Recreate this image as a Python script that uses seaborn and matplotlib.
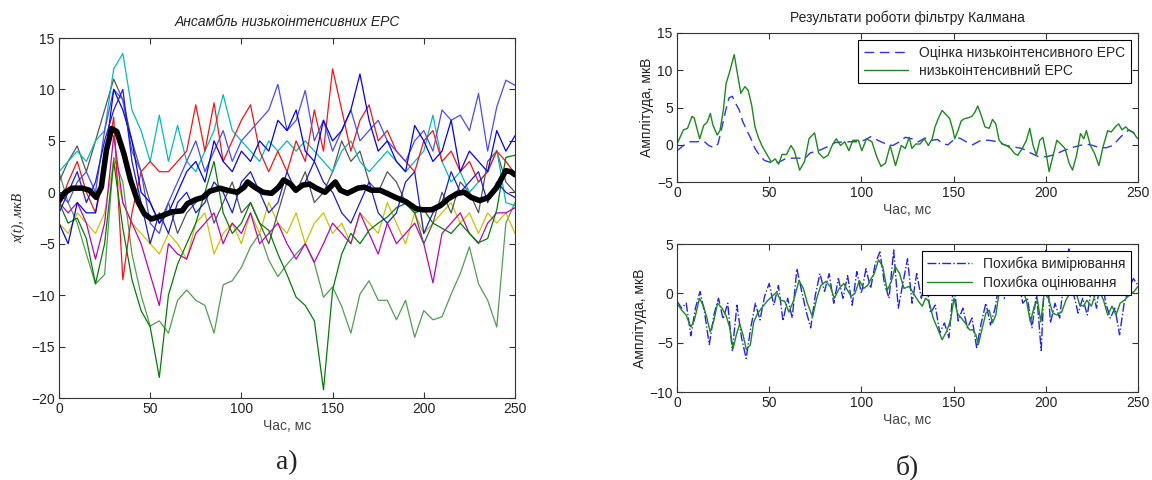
import numpy as np
import pandas as pd
import matplotlib
matplotlib.use("Agg")
import matplotlib.pyplot as plt
import seaborn as sns

# ---------- panel a: ensemble of low-intensity ERP (values every 5 ms) ----------
t_ens = np.arange(0, 251, 5)

ens_green_dark = [-1.0, -3.0, -2.5, -4.5, -8.9, -5.0, 3.0, -3.5, -8.5, -11.5, -13.1, -18.0, -10.0,
                  -7.0, -5.0, -3.0, 0.0, 3.0, -2.0, -4.0, -3.0, -1.0, -3.0, -3.7, -6.0, -8.0, -10.2,
                  -11.0, -12.5, -19.2, -9.5, -6.0, -4.0, -5.0, -3.7, -3.0, -2.4, -1.5, -1.1, -2.0,
                  -1.7, -3.0, -3.5, -4.0, -3.0, -4.0, -4.9, -4.5, -1.7, 3.4, 3.6]
ens_green_light = [2.0, -1.0, -3.0, -6.0, -8.9, -8.0, 3.4, 1.0, -6.0, -10.0, -13.0, -12.5, -13.7,
                   -10.5, -9.5, -10.5, -11.0, -13.7, -9.0, -8.6, -7.3, -5.3, -4.0, -6.6, -8.2, -7.0,
                   -6.0, -5.0, -6.9, -10.2, -9.2, -11.1, -13.7, -9.9, -8.6, -10.5, -10.5, -12.4,
                   -10.5, -14.1, -11.5, -12.4, -12.1, -9.9, -7.9, -5.3, -8.9, -10.5, -13.1, -3.0, -1.0]
ens_red = [-1.5, 1.0, 3.0, 0.0, -2.0, 2.0, 7.3, -8.5, -2.0, 2.0, 3.0, 2.0, 2.0, 3.0, 4.0, 8.5, 4.0,
           8.7, 3.0, 5.0, 7.0, 8.5, 4.0, 2.0, 4.0, 2.0, 5.0, 3.0, 8.0, 4.0, 12.0, 8.0, 4.0, 7.0,
           8.5, 5.0, 6.0, 4.0, 3.0, 2.0, 5.0, 6.0, 3.0, 4.0, 2.0, 3.0, 1.0, 2.0, 4.0, 3.0, 1.8]
ens_cyan = [2.0, 3.0, 4.0, 3.0, 5.0, 6.0, 12.0, 13.5, 8.0, 6.0, 3.0, 7.5, 3.0, 6.5, 3.0, 2.0, 4.0,
            6.0, 9.5, 6.0, 5.0, 4.0, 3.0, 5.0, 4.0, 5.0, 4.0, 5.0, 4.0, 3.0, 2.0, 4.0, 5.0, 3.0,
            2.0, 3.0, 4.0, 3.0, 2.0, 3.0, 4.0, 7.5, 3.0, 1.0, 2.0, 0.0, 1.0, 2.0, 4.1, -1.0, -1.3]
ens_blue = [-3.0, -5.0, -1.0, -2.0, -2.0, 3.0, 10.0, 8.0, 5.0, 0.0, -1.0, -3.0, -2.0, 0.0, 2.0, 3.0,
            1.0, 5.0, 3.0, 2.0, 4.0, 3.0, 5.0, 4.0, 7.0, 6.0, 8.0, 4.0, 3.0, 7.0, 5.0, 6.0, 8.0,
            11.5, 7.0, 4.0, 5.0, 3.0, 2.0, 6.5, 5.0, 3.0, 4.0, 7.0, 2.0, 4.0, 3.0, 2.0, 6.0, 4.0, 5.5]
ens_blue_light = [0.0, -1.0, 1.0, 2.0, 0.0, 6.0, 10.0, 9.0, 4.0, 2.0, -3.0, -4.0, -1.0, 1.0, 3.0,
                  5.0, 2.0, 4.0, 6.0, 3.0, 5.0, 6.0, 7.0, 8.0, 10.5, 6.0, 7.0, 9.9, 5.0, 7.0, 4.0,
                  6.0, 8.0, 5.0, 6.0, 7.0, 5.0, 4.0, 3.0, 5.0, 6.0, 4.0, 8.0, 7.0, 7.5, 6.0, 9.6,
                  4.0, 8.3, 10.9, 10.4]
ens_blue_dark = [-2.0, 0.0, 2.0, -1.0, 1.0, 5.0, 8.0, 10.0, 3.0, -1.0, -5.0, -2.0, -4.0, -1.0, 0.0,
                 -2.0, -1.0, 1.0, 0.0, -2.0, 1.0, 2.0, 0.0, -2.0, -1.0, 2.0, 0.0, 1.0, 3.0, 1.0,
                 0.0, -2.0, -3.0, -1.0, 1.0, -2.0, -3.0, -2.0, 1.0, 2.0, -4.0, -2.0, -1.0, 2.0,
                 0.0, 1.0, 2.0, -1.0, 1.0, 0.0, -0.5]
ens_magenta = [-1.0, -2.0, -1.0, -3.0, -6.5, -3.0, 5.5, -1.0, -3.0, -5.0, -8.0, -11.0, -5.0, -6.0,
               -6.5, -4.0, -3.0, -2.0, -5.0, -3.0, -4.0, -2.0, -5.0, -4.0, -3.0, -5.0, -6.5, -5.0,
               -6.8, -5.0, -3.0, -4.0, -5.0, -2.0, -4.0, -6.0, -3.0, -5.0, -4.0, -3.0, -5.0, -8.8,
               -4.0, -3.0, -2.0, -4.0, -5.0, -3.0, -2.0, -2.0, -1.5]
ens_yellow = [-3.0, -4.0, -2.0, -3.0, -4.0, -2.0, 3.0, -1.0, -3.0, -4.0, -5.0, -6.0, -4.0, -5.0,
              -6.5, -3.0, -2.0, -6.0, -4.0, -3.0, -5.0, -2.0, -4.0, -1.0, -3.0, -4.0, -2.0, -5.0,
              -3.0, -2.0, -4.0, -3.0, -5.0, -2.0, -3.0, -4.0, -1.0, -3.0, -5.0, -2.0, -4.0, -3.0,
              -2.0, -1.0, -3.0, -2.0, -4.0, -2.0, -3.0, -2.0, -4.0]
ens_gray = [1.0, 3.0, 4.5, 2.0, 5.0, 8.0, 11.0, 9.0, 5.0, 2.0, -1.0, -3.0, -1.0, -4.0, -2.0, -1.0,
            0.0, -3.0, -1.0, 1.0, -2.0, -1.0, -3.0, -5.0, -2.0, 1.0, 0.0, 2.0, -1.0, 0.0, 2.0, 5.0,
            3.0, 4.0, 1.0, 0.0, 2.0, 1.0, -1.0, -2.0, -5.0, -3.0, 0.0, -2.0, 1.0, 0.0, -2.0, 3.0,
            4.0, 1.0, 0.0]

# ensemble mean (thick black line)
mean_t = [0, 3.4, 7.2, 12.8, 16.6, 20.4, 23.2, 26, 28.9, 31.7, 35.5, 39.2, 43, 46.8, 50.6, 56.2,
          61.9, 67.5, 70.4, 75.1, 78.9, 82.6, 88.3, 92.1, 97.7, 101.5, 103.4, 107.2, 111.9, 116.6,
          120.4, 123.2, 127, 129.8, 133.6, 137.4, 141.1, 145.8, 148.7, 151.5, 154.3, 158.1, 163.8,
          167.5, 171.3, 176, 179.8, 184.5, 190.1, 195.8, 199.6, 204.3, 209, 213.7, 218.5, 222.2,
          226, 230.7, 235.4, 240.1, 244.9, 247.7, 250]
mean_v = [-0.8, 0.0, 0.4, 0.4, 0.2, -0.5, 0.5, 4.1, 6.2, 5.9, 3.8, 1.2, -0.8, -2.1, -2.6, -2.3,
          -1.9, -1.8, -1.1, -0.7, -0.5, 0.1, 0.4, 0.2, 0.0, 0.5, 1.0, 0.5, 0.0, -0.1, 0.5, 1.2,
          0.8, 0.2, 0.7, 0.8, 0.4, 0.0, 0.5, 1.0, 0.2, -0.1, 0.4, 0.5, 0.2, 0.2, -0.1, -0.5, -0.9,
          -1.6, -1.7, -1.7, -1.3, -0.6, -0.1, 0.0, -0.5, -0.8, -0.5, 0.5, 2.1, 2.0, 1.7]

# ---------- panel b (top): Kalman filter result ----------
true_t = [0, 3.5, 5.7, 8.1, 9.3, 12.3, 14.5, 16.3, 18.1, 19.4, 21.8, 23.3, 25.1, 26.6, 28.8, 31,
          32.8, 34.6, 36.8, 38.6, 40.5, 42.3, 44.1, 46, 48.5, 51.1, 53.3, 55.1, 57, 59.4, 61.8,
          63.6, 66.5, 69.1, 71.6, 74.6, 76.8, 79.5, 81.9, 84.1, 86.3, 88.7, 91, 93.2, 95.4, 98.4,
          100.2, 102.8, 105.7, 108.3, 110.6, 113, 115.6, 118.5, 121.6, 123.8, 125.9, 127.4, 129.5,
          131.8, 134.1, 136.3, 138.4, 139.9, 142, 143.8, 146.1, 147.9, 149.7, 150.6, 152.4, 154.1,
          155.9, 157.7, 159.9, 161.6, 163.1, 164.9, 167, 169.3, 171.1, 172.9, 174.7, 176.5, 178.8,
          180.9, 183.1, 184.9, 187.2, 189.5, 191.3, 193.1, 194.9, 196.7, 198.4, 200.2, 201.8,
          203.8, 206, 208.1, 210.4, 212.7, 214.5, 216.7, 218.8, 220.6, 222, 224.2, 226.5, 228.8,
          231, 233.6, 235.4, 237.7, 239.5, 241.3, 243.4, 245.2, 247.4, 249.2, 250]
true_v = [0.1, 2.0, 2.2, 3.8, 3.6, 0.8, 2.6, 3.0, 4.2, 2.7, 1.3, 1.9, 4.6, 8.2, 10.0, 12.1, 9.5,
          6.9, 7.8, 7.3, 5.3, 2.4, 1.0, -0.1, -1.2, -2.3, -1.9, -2.6, -1.3, -1.3, -0.1, -0.8,
          -3.4, -2.3, 0.8, 1.6, -1.1, -1.8, -1.4, -0.1, 0.8, -0.1, 0.4, -0.8, 0.6, 0.6, -0.8, 0.8,
          0.4, -1.6, -2.9, -2.5, -0.1, -2.8, -0.1, -0.5, 1.0, -0.5, 0.1, 0.1, 0.8, -0.1, 0.8, 2.4,
          3.7, 4.6, 4.0, 3.5, 1.9, 0.8, 1.9, 3.2, 3.5, 3.6, 3.8, 4.4, 5.2, 4.0, 2.4, 2.2, 3.4, 2.8,
          0.6, 0.1, -0.1, -0.5, -1.2, -1.4, -0.5, 0.6, 2.2, -0.1, -1.4, 0.6, 1.0, -1.2, -3.6,
          -1.6, 0.6, 0.1, -0.5, -2.5, -3.4, -1.4, 1.5, 0.8, 1.9, -0.1, -1.2, -2.8, -0.3, 1.9,
          1.7, 2.4, 2.8, 2.0, 2.4, 1.9, 1.7, 1.0, 0.8]

est_t = [0, 3.5, 7.1, 10.8, 14.5, 17.2, 20, 22.2, 23.6, 26.4, 28.2, 30, 31.9, 33.7, 35.5, 37.9,
         40.1, 42.3, 44.7, 47.4, 51.1, 54.8, 59.4, 64, 69.5, 72.2, 76.8, 81.3, 85.9, 91.4, 96.9,
         101.5, 105.2, 109.7, 113.4, 117, 120.7, 123.8, 127.4, 130.9, 134.5, 138, 141.3, 144.3,
         147, 149.7, 153.3, 156.8, 160.4, 164.9, 169.3, 173.8, 178.3, 182.7, 187.2, 191.7, 196.1,
         200.6, 205, 209.5, 214, 218.4, 222, 225.6, 229.2, 232.7, 236.3, 240.8, 245, 250]
est_v = [-0.8, -0.1, 0.4, 0.4, 0.5, -0.1, -0.4, 0.1, 1.5, 4.6, 6.3, 6.5, 5.5, 4.7, 3.2, 1.9, 0.8,
         -0.5, -1.4, -2.1, -2.4, -2.4, -1.8, -1.8, -1.8, -1.1, -0.8, -0.3, 0.3, 0.4, 0.4, 0.6, 1.1,
         0.5, 0.1, -0.1, 0.4, 1.0, 0.8, 0.4, 0.9, 0.6, 0.7, 0.1, 0.0, 0.6, 0.9, 0.4, 0.0, 0.6, 0.6,
         0.4, -0.1, -0.3, -0.5, -1.1, -1.6, -1.6, -1.3, -0.8, -0.4, -0.1, 0.1, -0.1, -0.4, -0.4,
         -0.1, 1.1, 2.0, 1.2]

# ---------- panel b (bottom): errors ----------
err_est_t = [0, 2.5, 4.9, 7.5, 9.3, 12.2, 14.4, 16.2, 18, 19.8, 22, 24.4, 26.7, 28.5, 30.4, 32.2,
             34, 35.8, 37.6, 39.8, 41.6, 43.8, 46.7, 49.3, 51.6, 54, 56.2, 58.4, 60.7, 63.1, 66.2,
             68.5, 70.7, 73.5, 75.8, 78, 80.7, 83.1, 85.3, 88, 90.4, 92.5, 94.4, 96.5, 98.9,
             101.3, 103.4, 105.3, 107, 109.3, 111.6, 114, 116.2, 118.4, 120.7, 123.1, 125.9,
             128.2, 130.9, 133, 134.8, 136.6, 138.9, 141.6, 143.8, 146.1, 148.4, 150.2, 152,
             154.1, 156.3, 158.6, 160.4, 162.1, 163.4, 165.7, 167.5, 169.3, 171.1, 172.9, 174.6,
             177, 179.1, 181.8, 184.5, 187.1, 189.5, 191.6, 193.8, 195.5, 197.3, 199.1, 201.4,
             203.8, 206, 208.6, 210.9, 213, 214.8, 216.6, 218.4, 220.5, 222.3, 224.7, 227, 229.1,
             231.3, 233.6, 235.9, 238.1, 240.3, 242.6, 245.2, 247.9, 250]
err_est_v = [-1.0, -1.7, -2.2, -3.4, -2.8, -0.5, -1.3, -2.5, -3.9, -2.9, -1.0, -1.5, -2.3, -3.4,
             -5.6, -4.2, -3.1, -4.2, -5.7, -5.2, -2.9, -2.0, -1.3, -0.7, -0.3, 0.1, -0.7, -0.8,
             -1.9, -0.8, 1.3, 0.5, -1.0, -2.4, -0.5, 0.8, 1.2, 0.7, -0.5, 0.5, 1.0, 0.3, -0.3, 0.0,
             1.3, 0.5, 0.8, 1.5, 2.0, 3.4, 2.7, 0.3, 1.2, 2.7, 2.0, 0.5, 0.7, 0.0, -0.8, -1.3,
             -0.5, -0.8, -2.5, -3.7, -4.7, -3.9, -2.7, -0.5, -2.0, -2.5, -3.0, -3.7, -3.7, -4.2,
             -5.2, -3.4, -2.0, -1.7, -3.0, -2.2, 0.0, 0.3, 0.2, 0.5, 0.8, 0.5, -0.7, -2.9, -1.3,
             -0.7, -2.9, 0.0, -0.5, -2.0, -2.2, -1.9, -0.7, 0.0, 0.5, 0.0, -1.2, -1.3, -0.7, -1.3,
             0.0, 0.2, -0.7, -2.2, -1.3, -2.2, -1.0, -0.7, -0.2, 0.2, 0.7]

err_meas_t = np.arange(0, 250.1, 2.5)
err_meas_v = [-0.8, -1.5, -1.0, -4.3, -1.5, 0.2, -2.0, -5.2, -2.2, -0.5, -2.6, -1.0, -5.8, -1.2,
              -4.5, -6.6, -3.5, -1.0, -2.7, -0.3, 1.0, -1.2, 0.8, -2.8, -0.5, -2.5, 2.5, 0.3,
              -1.8, -3.5, -0.2, 2.0, 0.2, 2.0, -1.0, 1.5, -0.5, 1.8, -1.2, 2.2, 0.0, 2.5, 0.5,
              3.0, 4.2, 1.0, -0.5, 4.4, -1.5, 1.0, 3.5, -1.0, 2.0, -0.5, 1.5, -2.0, -1.2, -4.0,
              -3.0, -4.5, 1.0, -2.8, -1.5, -3.5, -2.5, -5.5, -3.0, -1.0, -3.2, -1.5, 1.5, -0.5,
              2.5, 0.0, 1.5, -1.0, -0.5, -3.5, 0.0, -5.8, 4.5, -3.0, -1.0, -2.5, 1.5, 4.5, 0.0,
              -2.0, -0.5, -2.2, 0.8, -1.5, 2.0, -1.0, -2.5, -1.5, -4.2, -1.0, 0.5, 1.5, 0.8]

# ---------- styling ----------
sns.set_style("ticks", {"xtick.direction": "in", "ytick.direction": "in"})
plt.rcParams['font.family'] = ['Liberation Sans', 'DejaVu Sans']
text_col = "#222222"

fig = plt.figure(figsize=(11.52, 4.8), dpi=100)
ax_a = fig.add_axes([59 / 1152, 1 - 398 / 480, 456 / 1152, 360 / 480])
ax_b = fig.add_axes([677 / 1152, 1 - 182 / 480, 461 / 1152, 149 / 480])
ax_c = fig.add_axes([677 / 1152, 1 - 392 / 480, 461 / 1152, 148 / 480])

# panel a
ens = pd.DataFrame({
    "t": t_ens,
    "g2": ens_green_light, "y": ens_yellow, "m": ens_magenta, "k": ens_gray,
    "c": ens_cyan, "r": ens_red, "b2": ens_blue_light, "g": ens_green_dark,
    "b": ens_blue, "b3": ens_blue_dark,
})
long = ens.melt(id_vars="t", var_name="run", value_name="x")
palette = {"g2": "#4f9f4f", "y": "#c8c400", "m": "#c000c0", "k": "#555555", "c": "#00bcbc",
           "r": "#ff1010", "b2": "#4a4aff", "g": "#008000", "b": "#0000ff", "b3": "#1a1ae0"}
sns.lineplot(data=long, x="t", y="x", hue="run", palette=palette, estimator=None, sort=False,
             lw=0.9, legend=False, ax=ax_a)
sns.lineplot(x=mean_t, y=mean_v, color="black", lw=4.0, estimator=None, sort=False, ax=ax_a)
ax_a.set_xlim(0, 250)
ax_a.set_ylim(-20, 15)
ax_a.set_yticks(range(-20, 16, 5))
ax_a.set_title("Ансамбль низькоінтенсивних ЕРС", fontsize=10, style="italic", color=text_col, pad=9)
ax_a.set_xlabel("Час, мс", fontsize=10, color="#444444", labelpad=2)
ax_a.set_ylabel("x(t), мкВ", fontsize=10, family="Liberation Serif", style="italic",
                color=text_col, labelpad=4)

# panel b top
sns.lineplot(x=est_t, y=est_v, color="#3030ff", lw=1.0, dashes=False, estimator=None, sort=False,
             ax=ax_b, label="Оцінка низькоінтенсивного ЕРС").lines[-1].set_dashes((7, 4))
sns.lineplot(x=true_t, y=true_v, color="#1a8a1a", lw=1.0, estimator=None, sort=False, ax=ax_b,
             label="низькоінтенсивний ЕРС")
ax_b.set_xlim(0, 250)
ax_b.set_ylim(-5, 15)
ax_b.set_yticks(range(-5, 16, 5))
ax_b.set_title("Результати роботи фільтру Калмана", fontsize=10, color=text_col, pad=8)
ax_b.set_xlabel("Час, мс", fontsize=10, color="#444444", labelpad=2)
ax_b.set_ylabel("Амплітуда, мкВ", fontsize=10, color=text_col, labelpad=2)

# panel b bottom
sns.lineplot(x=err_meas_t, y=err_meas_v, color="#2020ff", lw=1.0, estimator=None, sort=False,
             ax=ax_c, label="Похибка вимірювання").lines[-1].set_linestyle("-.")
sns.lineplot(x=err_est_t, y=err_est_v, color="#1a8a1a", lw=1.0, estimator=None, sort=False,
             ax=ax_c, label="Похибка оцінювання")
ax_c.set_xlim(0, 250)
ax_c.set_ylim(-10, 5)
ax_c.set_yticks(range(-10, 6, 5))
ax_c.set_xlabel("Час, мс", fontsize=10, color="#444444", labelpad=2)
ax_c.set_ylabel("Амплітуда, мкВ", fontsize=10, color=text_col, labelpad=2)

for ax in (ax_a, ax_b, ax_c):
    ax.set_xticks(range(0, 251, 50))
    ax.tick_params(top=True, right=True, direction="in", length=4, width=0.8,
                   labelsize=10, colors="#333333", labelcolor=text_col, pad=3)
    for sp in ax.spines.values():
        sp.set_visible(True)
        sp.set_linewidth(0.8)
        sp.set_color("#333333")

for ax in (ax_b, ax_c):
    leg = ax.legend(loc="upper right", fontsize=10, frameon=True, fancybox=False,
                    edgecolor="black", framealpha=1, handlelength=3.2, borderpad=0.4,
                    labelspacing=0.3, borderaxespad=0.5)
    leg.get_frame().set_linewidth(0.8)

fig.text(287 / 1152, 1 - 463 / 480, "а)", fontsize=20, family="Liberation Serif",
         ha="center", va="center")
fig.text(907 / 1152, 1 - 467 / 480, "б)", fontsize=20, family="Liberation Serif",
         ha="center", va="center")

fig.savefig("out.png", dpi=100)
